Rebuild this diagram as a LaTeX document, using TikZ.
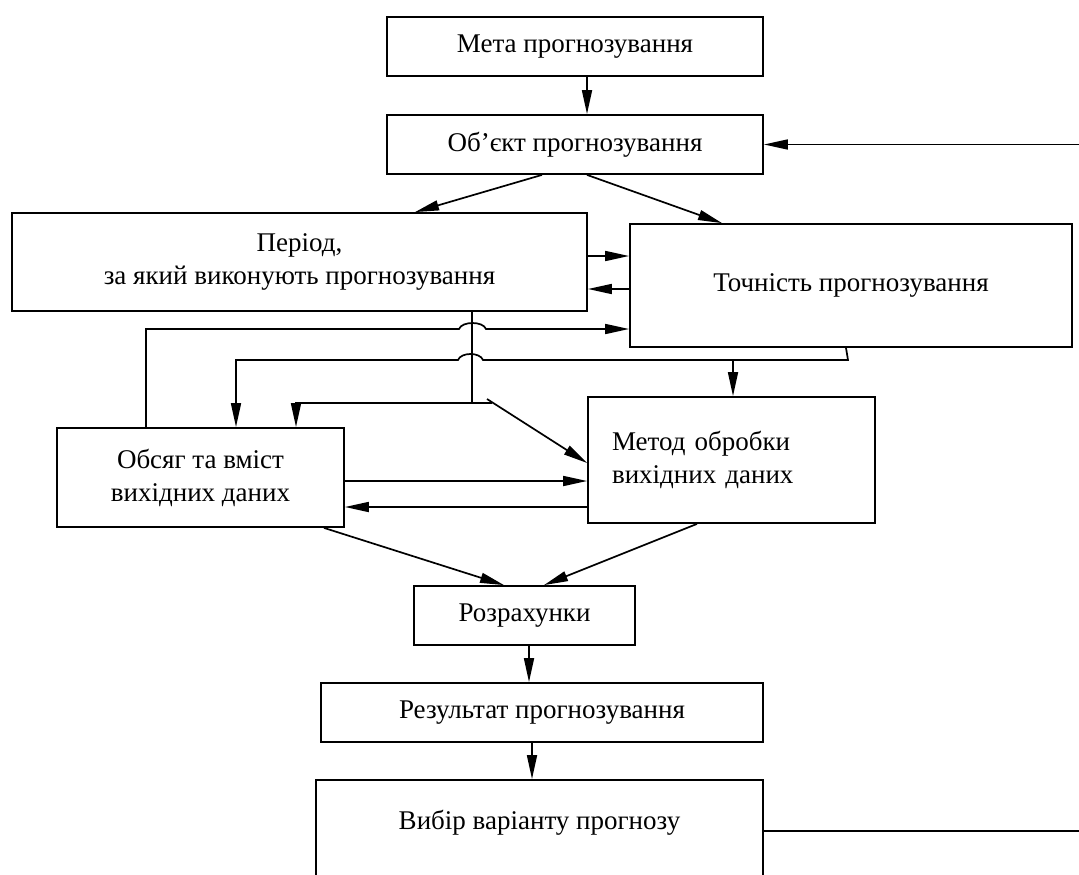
\documentclass[tikz,border=0pt]{standalone}
\usepackage{fontspec}
\setmainfont{Liberation Serif}
\usetikzlibrary{arrows.meta}
\begin{document}
\begin{tikzpicture}[x=1pt,y=-1pt,
  box/.style={draw, line width=1.8pt, inner sep=0pt, align=center, font=\fontsize{27}{33}\selectfont},
  arr/.style={line width=1.7pt, -{Triangle[length=24pt,width=10pt]}},
  ln/.style={line width=1.7pt}]
\useasboundingbox (0,0) rectangle (1079,875);
\clip (0,0) rectangle (1079,875);

\node[box, minimum width=376pt, minimum height=59pt] (m1) at (575,46.5) {Мета прогнозування};
\node[box, minimum width=376pt, minimum height=59pt] (m2) at (575,144.5) {Об’єкт прогнозування};
\node[box, minimum width=575pt, minimum height=98pt] (m3) at (299.5,262) {Період,\\за який виконують прогнозування};
\node[box, minimum width=442pt, minimum height=123pt] (m4) at (851,285.5) {Точність прогнозування};
\node[box, minimum width=287pt, minimum height=99pt] (m5) at (200.5,477.5) {Обсяг та вміст\\вихідних даних};
\node[box, text width=239pt, align=left, inner xsep=24pt, minimum width=287pt, minimum height=126pt] (m6) at (731.5,460) {Метод обробки\\вихідних даних};
\node[box, minimum width=221pt, minimum height=59pt] (m7) at (524.5,615.5) {Розрахунки};
\node[box, minimum width=442pt, minimum height=59pt] (m8) at (542,712.5) {Результат прогнозування};
\node[box, minimum width=447pt, minimum height=117pt, text height=20pt, text depth=39pt] (m9) at (539.5,838.5) {Вибір варіанту прогнозу};

\coordinate (r1) at (1079,144.5);
\coordinate (r2) at (1079,831);
\coordinate (j2) at (733,360);
\coordinate (j3) at (492,403);
\coordinate (j4) at (487,399);

% top chain
\draw[arr] ([xshift=12pt]m1.south) -- ([xshift=12pt]m2.north);
\draw[arr] (r1) -- (m2.east);
\draw[arr] ([xshift=-33pt]m2.south) -- ([xshift=115.5pt]m3.north);
\draw[arr] ([xshift=12pt]m2.south) -- ([xshift=-129pt]m4.north);

% period <-> accuracy
\draw[arr] ([yshift=6pt]m3.east) -- ([yshift=6pt]m3.east -| m4.west);
\draw[arr] ([yshift=-27pt]m3.east -| m4.west) -- ([yshift=-27pt]m3.east);

% from volume box up to accuracy (hop over vertical)
\draw[arr] ([xshift=-54.5pt]m5.north) -- (146,329) -- (459,329)
  .. controls (462,321) and (483,321) .. (486,329) -- ([yshift=-43.5pt]m4.west);

% from accuracy down to volume box (hop over vertical)
\draw[arr] ([xshift=-5pt]m4.south) -- (848,360) -- (483,360)
  .. controls (480,352) and (461,352) .. (458,360) -- (236,360) -- ([xshift=35.5pt]m5.north);
\draw[arr] (j2) -- ([xshift=1.5pt]m6.north);

% from period down
\draw[ln] ([xshift=172.5pt]m3.south) -- (472,403);
\draw[arr] (j3) -- (296,403) -- ([xshift=95.5pt]m5.north);
\draw[arr] (j4) -- ([yshift=-3pt]m6.west);

% volume <-> method
\draw[arr] ([yshift=-3.5pt]m5.east) -- ([yshift=-3.5pt]m5.east -| m6.west);
\draw[arr] ([yshift=-29.5pt]m5.east -| m6.west) -- ([yshift=-29.5pt]m5.east);

% to calculations
\draw[arr] ([xshift=123.5pt]m5.south) -- ([xshift=-20.5pt]m7.north);
\draw[arr] ([xshift=-34.5pt]m6.south) -- ([xshift=19.5pt]m7.north);

% bottom chain
\draw[arr] ([xshift=4.5pt]m7.south) -- ([xshift=-13pt]m8.north);
\draw[arr] ([xshift=-10pt]m8.south) -- ([xshift=-7.5pt]m9.north);
\draw[ln] ([yshift=7.5pt]m9.east) -- (r2);
\end{tikzpicture}
\end{document}
